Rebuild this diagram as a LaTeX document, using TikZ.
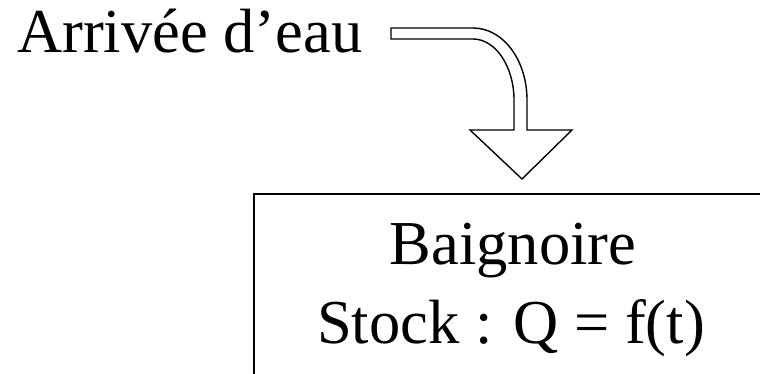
\documentclass[tikz,border=0pt]{standalone}
\usepackage{fontspec}
\setmainfont{Liberation Serif}
\tikzset{
  bigtext/.style={font=\fontsize{62.5}{75}\selectfont, inner sep=0pt},
  outline/.style={line width=1.4pt, line join=miter}
}
\begin{document}
\begin{tikzpicture}[x=1pt,y=1pt]
  \useasboundingbox (0,0) rectangle (760,374);
  \clip (0,0) rectangle (760,374);

  % source text
  \node[bigtext, anchor=base west] (arrivee) at (17,321) {Arrivée d’eau};

  % bath tub (runs off the page)
  \draw[outline] (772,180) -- (254,180) -- (254,-20);
  \node[bigtext, anchor=base] (baignoire) at (513,109) {Baignoire};
  \node[bigtext, anchor=base] (stock) at (511,30) {Stock : Q = f(t)};

  % hollow bent arrow
  \draw[outline, fill=white]
    (391,346) -- (473,346)
    .. controls (503,346) and (527,314) .. (527,274)
    -- (527,244) -- (572,244) -- (522,195) -- (470,244) -- (514,244)
    -- (514,274)
    .. controls (514,307.5) and (495.5,335) .. (473,335)
    -- (391,335) -- cycle;
\end{tikzpicture}
\end{document}
